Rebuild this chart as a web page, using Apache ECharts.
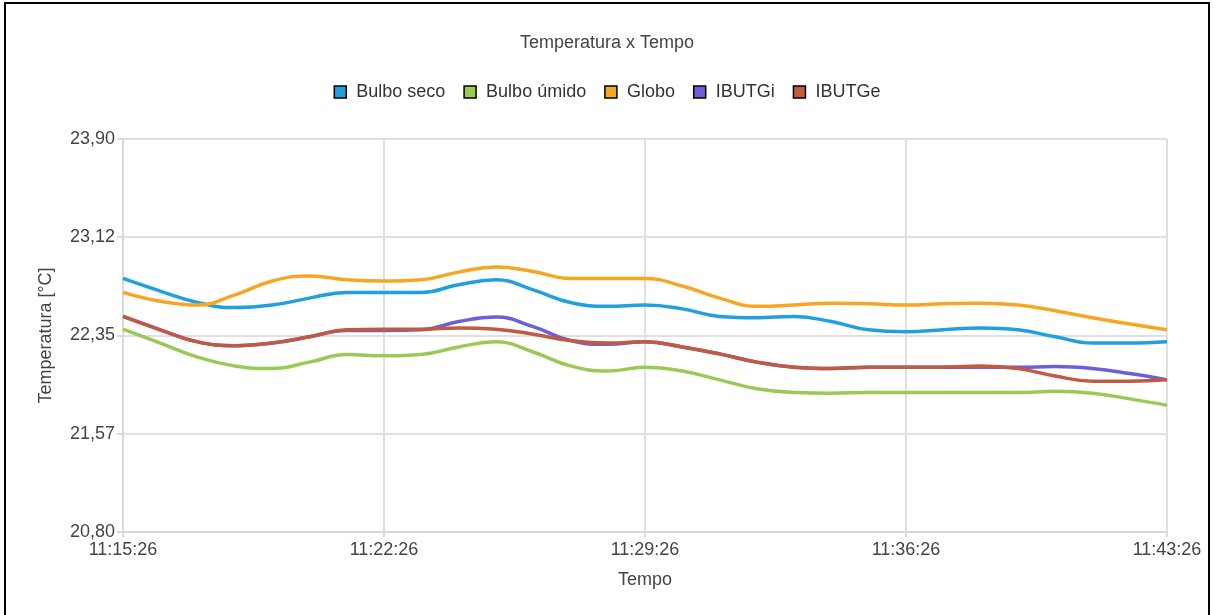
<!DOCTYPE html>
<html>
<head>
<meta charset="utf-8">
<script src="https://cdn.jsdelivr.net/npm/echarts@6/dist/echarts.min.js"></script>
<style>
html,body{margin:0;padding:0;background:#fff;overflow:hidden;}
#frame{position:absolute;left:4px;top:2px;width:1206px;height:640px;border:2px solid #000;box-sizing:border-box;}
#chart{position:absolute;left:0;top:0;width:1214px;height:615px;}
</style>
</head>
<body>
<div id="frame"></div>
<div id="chart"></div>
<script>
// Categories: one reading per minute
const times = ['11:15:26','11:16:26','11:17:26','11:18:26','11:19:26','11:20:26','11:21:26',
  '11:22:26','11:23:26','11:24:26','11:25:26','11:26:26','11:27:26','11:28:26',
  '11:29:26','11:30:26','11:31:26','11:32:26','11:33:26','11:34:26','11:35:26',
  '11:36:26','11:37:26','11:38:26','11:39:26','11:40:26','11:41:26','11:42:26','11:43:26'];

const bulboSeco = [22.80,22.70,22.61,22.57,22.59,22.645,22.69,22.69,22.69,22.75,22.79,22.71,22.61,22.58,
  22.59,22.56,22.50,22.49,22.50,22.46,22.395,22.38,22.395,22.41,22.395,22.34,22.29,22.29,22.30];
const bulboUmido = [22.40,22.29,22.18,22.11,22.09,22.14,22.20,22.19,22.20,22.26,22.30,22.22,22.11,22.07,
  22.10,22.07,22.00,21.93,21.90,21.895,21.90,21.90,21.90,21.90,21.90,21.91,21.895,21.85,21.80];
const globo = [22.69,22.62,22.59,22.67,22.78,22.82,22.79,22.78,22.79,22.85,22.89,22.855,22.80,22.80,
  22.80,22.74,22.645,22.58,22.59,22.605,22.60,22.59,22.60,22.605,22.59,22.545,22.49,22.44,22.395];
const ibutgi = [22.50,22.395,22.30,22.27,22.29,22.34,22.39,22.39,22.395,22.46,22.495,22.42,22.31,22.28,
  22.30,22.26,22.205,22.14,22.10,22.09,22.10,22.10,22.10,22.10,22.10,22.105,22.09,22.05,22.00];
const ibutge = [22.50,22.395,22.30,22.27,22.29,22.34,22.395,22.40,22.40,22.41,22.40,22.36,22.31,22.29,
  22.30,22.26,22.205,22.14,22.10,22.09,22.10,22.10,22.10,22.11,22.09,22.03,21.99,21.99,22.00];

const seriesNames = ['Bulbo seco','Bulbo úmido','Globo','IBUTGi','IBUTGe'];
const yTickLabels = ['20,80','21,57','22,35','23,12','23,90'];
const yMin = 20.8, yMax = 23.9, yStep = 0.775;

const colors = ['#21a0de','#9aca55','#f6a623','#6e5fd9','#c05a40'];
const dataSets = [bulboSeco, bulboUmido, globo, ibutgi, ibutge];
const FONT = '"Liberation Sans", Arial, sans-serif';

const chart = echarts.init(document.getElementById('chart'), null, {renderer:'canvas'});
chart.setOption({
  animation:false,
  color: colors,
  title:{
    text:'Temperatura x Tempo', left:'center', top:29,
    textStyle:{fontFamily:FONT, fontSize:18, fontWeight:'normal', color:'#444'}
  },
  legend:{
    top:78, left:'center', icon:'rect', itemWidth:12, itemHeight:12, itemGap:18,
    itemStyle:{borderColor:'#000', borderWidth:1.5},
    textStyle:{fontFamily:FONT, fontSize:18, color:'#333', padding:[0,0,0,5]},
    data: seriesNames
  },
  grid:{left:123, right:47, top:139, bottom:83, containLabel:false},
  xAxis:{
    type:'category', data:times, boundaryGap:false,
    name:'Tempo', nameLocation:'middle', nameGap:39,
    nameTextStyle:{fontFamily:FONT, fontSize:18, color:'#444'},
    axisLine:{show:true, lineStyle:{color:'#d9d9d9', width:2}},
    axisTick:{show:true, interval:6, length:5, lineStyle:{color:'#d9d9d9', width:2}},
    axisLabel:{interval:6, fontFamily:FONT, fontSize:18, color:'#444', margin:9},
    splitLine:{show:true, interval:6, lineStyle:{color:'#e0e0e0', width:2}}
  },
  yAxis:{
    type:'value', min:yMin, max:yMax, interval:yStep,
    name:'Temperatura [°C]', nameLocation:'middle', nameGap:68, nameRotate:90,
    nameTextStyle:{fontFamily:FONT, fontSize:18, color:'#444'},
    axisLine:{show:true, lineStyle:{color:'#d9d9d9', width:2}},
    axisTick:{show:true, length:6, lineStyle:{color:'#d9d9d9', width:2}},
    axisLabel:{fontFamily:FONT, fontSize:18, color:'#444', margin:8,
      formatter:function(v, i){ return yTickLabels[i] !== undefined ? yTickLabels[i] : ''; }},
    splitLine:{show:true, lineStyle:{color:'#e0e0e0', width:2}}
  },
  series: seriesNames.map(function(n, i){
    return {
      name:n, type:'line', data:dataSets[i], smooth:0.45, symbol:'none',
      lineStyle:{width:3.5, color:colors[i]}, itemStyle:{color:colors[i]}
    };
  })
});
</script>
</body>
</html>
